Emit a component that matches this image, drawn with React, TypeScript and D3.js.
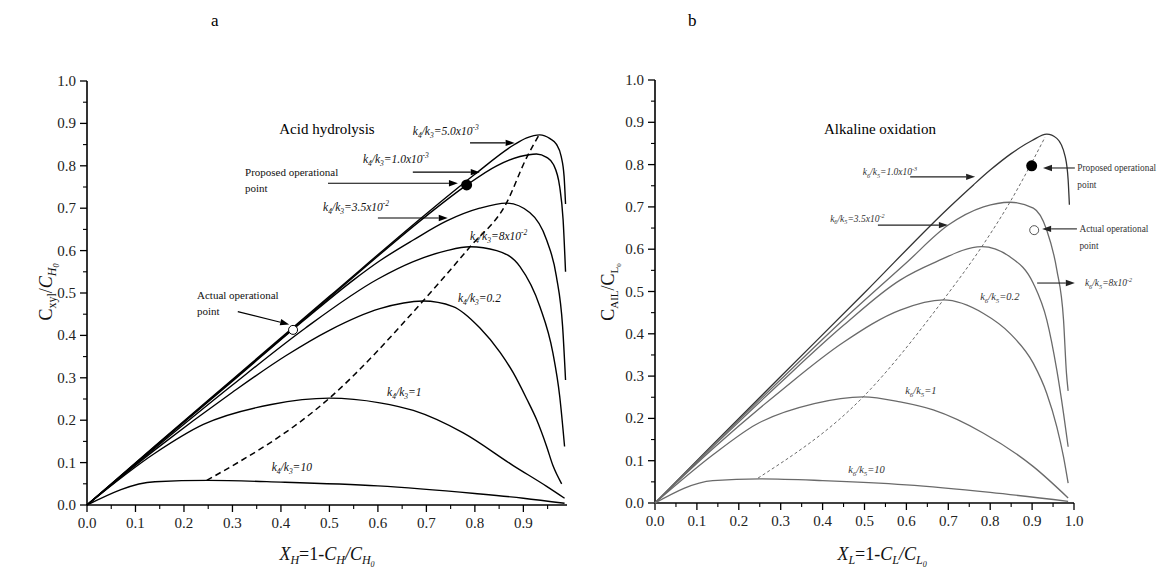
import React from 'react';
import * as d3 from 'd3';

type P = [number, number];

// ---------- Panel a: Acid hydrolysis ----------
const acid_k5e3: P[] = [[0,0],[0.14,0.139],[0.3,0.296],[0.5,0.492],[0.7,0.687],[0.8,0.78],[0.88,0.849],[0.907,0.866],[0.934,0.873],[0.955,0.864],[0.968,0.851],[0.978,0.822],[0.984,0.775],[0.987,0.71]];
const acid_k1e3: P[] = [[0,0],[0.14,0.138],[0.3,0.294],[0.5,0.489],[0.7,0.682],[0.78,0.752],[0.845,0.8],[0.893,0.822],[0.927,0.828],[0.948,0.82],[0.962,0.803],[0.975,0.75],[0.982,0.672],[0.987,0.55]];
const acid_k35e2: P[] = [[0,0],[0.14,0.137],[0.3,0.292],[0.45,0.438],[0.55,0.531],[0.604,0.576],[0.673,0.625],[0.742,0.67],[0.81,0.7],[0.865,0.712],[0.913,0.69],[0.948,0.625],[0.968,0.54],[0.981,0.42],[0.987,0.295]];
const acid_k8e2: P[] = [[0,0],[0.14,0.134],[0.3,0.283],[0.45,0.417],[0.6,0.533],[0.673,0.574],[0.742,0.6],[0.79,0.609],[0.845,0.6],[0.893,0.562],[0.934,0.468],[0.961,0.358],[0.975,0.256],[0.985,0.138]];
const acid_k02: P[] = [[0,0],[0.14,0.13],[0.3,0.266],[0.41,0.352],[0.5,0.412],[0.604,0.463],[0.693,0.481],[0.755,0.468],[0.81,0.418],[0.852,0.36],[0.879,0.312],[0.907,0.25],[0.927,0.202],[0.948,0.138],[0.961,0.093],[0.979,0.05]];
const acid_k1: P[] = [[0,0],[0.14,0.122],[0.24,0.19],[0.38,0.237],[0.5,0.252],[0.604,0.241],[0.673,0.223],[0.776,0.17],[0.879,0.093],[0.948,0.044],[0.985,0.016]];
const acid_k10: P[] = [[0,0],[0.14,0.055],[0.25,0.058],[0.4,0.054],[0.6,0.045],[0.8,0.027],[0.9,0.016],[0.985,0.004]];
const acid_locus: P[] = [[0.247,0.058],[0.5,0.252],[0.693,0.481],[0.79,0.609],[0.865,0.712],[0.907,0.82],[0.932,0.872]];

// ---------- Panel b: Alkaline oxidation ----------
const alk_k1e3: P[] = [[0,0],[0.14,0.14],[0.3,0.299],[0.5,0.497],[0.7,0.697],[0.76,0.752],[0.8,0.787],[0.85,0.826],[0.9,0.857],[0.935,0.872],[0.959,0.862],[0.979,0.819],[0.986,0.764],[0.989,0.705]];
const alk_k35e2: P[] = [[0,0],[0.14,0.138],[0.3,0.292],[0.45,0.434],[0.6,0.568],[0.7,0.657],[0.784,0.7],[0.847,0.711],[0.903,0.697],[0.935,0.645],[0.959,0.551],[0.975,0.433],[0.982,0.307],[0.986,0.265]];
const alk_k8e2: P[] = [[0,0],[0.14,0.135],[0.3,0.285],[0.45,0.42],[0.585,0.527],[0.664,0.567],[0.78,0.606],[0.847,0.582],[0.903,0.519],[0.935,0.433],[0.959,0.314],[0.975,0.212],[0.986,0.133]];
const alk_k02: P[] = [[0,0],[0.14,0.13],[0.3,0.265],[0.45,0.38],[0.585,0.456],[0.688,0.48],[0.784,0.448],[0.847,0.401],[0.903,0.33],[0.935,0.259],[0.959,0.18],[0.975,0.109],[0.986,0.047]];
const alk_k1: P[] = [[0,0],[0.14,0.115],[0.24,0.185],[0.38,0.235],[0.497,0.251],[0.585,0.239],[0.664,0.22],[0.784,0.165],[0.903,0.086],[0.986,0.012]];
const alk_k10: P[] = [[0,0],[0.138,0.053],[0.25,0.057],[0.4,0.053],[0.6,0.043],[0.8,0.025],[0.986,0.004]];
const alk_locus: P[] = [[0.246,0.059],[0.497,0.251],[0.688,0.48],[0.78,0.606],[0.847,0.711],[0.931,0.865]];

// operational points
const acidProposed: P = [0.783, 0.755];
const acidActual: P = [0.425, 0.413];
const alkProposed: P = [0.899, 0.797];
const alkActual: P = [0.905, 0.645];

// ticks
const yMajor = [0, 0.1, 0.2, 0.3, 0.4, 0.5, 0.6, 0.7, 0.8, 0.9, 1.0];
const yMinor = [0.05, 0.15, 0.25, 0.35, 0.45, 0.55, 0.65, 0.75, 0.85, 0.95];
const xMajorA = [0, 0.1, 0.2, 0.3, 0.4, 0.5, 0.6, 0.7, 0.8, 0.9];
const xMajorB = [0, 0.1, 0.2, 0.3, 0.4, 0.5, 0.6, 0.7, 0.8, 0.9, 1.0];
const xMinor = [0.05, 0.15, 0.25, 0.35, 0.45, 0.55, 0.65, 0.75, 0.85, 0.95];

const SERIF = '"Liberation Serif","Times New Roman",Times,"DejaVu Serif",serif';
const fmt = d3.format('.1f');

// scales
const xA = d3.scaleLinear().domain([0, 0.99]).range([87, 567]);
const yA = d3.scaleLinear().domain([0, 1]).range([505, 81]);
const xB = d3.scaleLinear().domain([0, 1]).range([655, 1074]);
const yB = d3.scaleLinear().domain([0, 1]).range([503, 80]);

function Axes({ x, y, xMajor }: { x: any; y: any; xMajor: number[] }) {
  const x0 = x.range()[0], x1 = x.range()[1];
  const y0 = y.range()[0], y1 = y.range()[1];
  return (
    <g stroke="#000" fill="none">
      <line x1={x0} y1={y0} x2={x0} y2={y1} strokeWidth={1.6} />
      <line x1={x0} y1={y0} x2={x1} y2={y0} strokeWidth={1.6} />
      {yMajor.map((v) => (
        <line key={'ym' + v} x1={x0 - 7} x2={x0} y1={y(v)} y2={y(v)} strokeWidth={1.3} />
      ))}
      {yMinor.map((v) => (
        <line key={'yn' + v} x1={x0 - 4} x2={x0} y1={y(v)} y2={y(v)} strokeWidth={1.1} />
      ))}
      {xMajor.map((v) => (
        <line key={'xm' + v} x1={x(v)} x2={x(v)} y1={y0} y2={y0 + 7} strokeWidth={1.3} />
      ))}
      {xMinor.map((v) => (
        <line key={'xn' + v} x1={x(v)} x2={x(v)} y1={y0} y2={y0 + 4} strokeWidth={1.1} />
      ))}
      <g stroke="none" fill="#222" fontFamily={SERIF} fontSize={15}>
        {yMajor.map((v) => (
          <text key={'yl' + v} x={x0 - 11} y={y(v) + 5} textAnchor="end">{fmt(v)}</text>
        ))}
        {xMajor.map((v) => (
          <text key={'xl' + v} x={x(v)} y={y0 + 23} textAnchor="middle">{fmt(v)}</text>
        ))}
      </g>
    </g>
  );
}

function KLabel({ x, y, a, b, val, exp, fill = '#111', size = 11.5 }: { x: number; y: number; a: string; b: string; val: string; exp?: string; fill?: string; size?: number }) {
  const s = size * 0.65;
  return (
    <text x={x} y={y} fontFamily={SERIF} fontStyle="italic" fontSize={size} fill={fill}>
      <tspan>k</tspan>
      <tspan dy={size * 0.27} fontSize={s}>{a}</tspan>
      <tspan dy={-size * 0.27}>/k</tspan>
      <tspan dy={size * 0.27} fontSize={s}>{b}</tspan>
      <tspan dy={-size * 0.27}>={val}</tspan>
      {exp ? <tspan dy={-size * 0.43} fontSize={s}>{exp}</tspan> : null}
    </text>
  );
}

function Arrow({ x1, y1, x2, y2, color = '#000' }: { x1: number; y1: number; x2: number; y2: number; color?: string }) {
  const ang = Math.atan2(y2 - y1, x2 - x1);
  const L = 9, W = 3.2;
  const bx = x2 - L * Math.cos(ang), by = y2 - L * Math.sin(ang);
  const px = -Math.sin(ang) * W, py = Math.cos(ang) * W;
  return (
    <g>
      <line x1={x1} y1={y1} x2={bx} y2={by} stroke={color} strokeWidth={1.1} />
      <path d={`M${x2},${y2}L${bx + px},${by + py}L${bx - px},${by - py}Z`} fill={color} />
    </g>
  );
}

export default function App() {
  const lineA = d3.line<P>().x((d) => xA(d[0])).y((d) => yA(d[1])).curve(d3.curveMonotoneX);
  const lineB = d3.line<P>().x((d) => xB(d[0])).y((d) => yB(d[1])).curve(d3.curveMonotoneX);

  const curvesA = [acid_k5e3, acid_k1e3, acid_k35e2, acid_k8e2, acid_k02, acid_k1, acid_k10];
  const curvesB = [alk_k35e2, alk_k8e2, alk_k02, alk_k1, alk_k10];

  return (
    <svg width={1161} height={580} style={{ display: 'block', position: 'absolute', left: 0, top: 0, background: '#fff' }}>
      <rect x={0} y={0} width={1161} height={580} fill="#fff" />
      {/* panel labels */}
      <text x={211} y={26} fontFamily={SERIF} fontSize={17}>a</text>
      <text x={688} y={26} fontFamily={SERIF} fontSize={17}>b</text>

      {/* ============ Panel a ============ */}
      <text x={327} y={134} textAnchor="middle" fontFamily={SERIF} fontSize={15}>Acid hydrolysis</text>
      <Axes x={xA} y={yA} xMajor={xMajorA} />
      <g fill="none" stroke="#000" strokeWidth={1.4}>
        {curvesA.map((c, i) => (
          <path key={i} d={lineA(c) || ''} />
        ))}
        <path d={lineA(acid_locus) || ''} strokeDasharray="6 4" strokeWidth={1.5} />
      </g>
      <circle cx={xA(acidProposed[0])} cy={yA(acidProposed[1])} r={5.5} fill="#000" />
      <circle cx={xA(acidActual[0])} cy={yA(acidActual[1])} r={4.5} fill="#fff" stroke="#000" strokeWidth={1} />

      <KLabel x={xA(0.672)} y={yA(0.872)} a="4" b="3" val="5.0x10" exp="-3" />
      <Arrow x1={xA(0.79)} y1={yA(0.854)} x2={xA(0.882)} y2={yA(0.854)} />
      <KLabel x={xA(0.569)} y={yA(0.806)} a="4" b="3" val="1.0x10" exp="-3" />
      <Arrow x1={xA(0.672)} y1={yA(0.785)} x2={xA(0.81)} y2={yA(0.785)} />
      <text fontFamily={SERIF} fontSize={11} fill="#111">
        <tspan x={xA(0.326)} y={yA(0.775)}>Proposed operational</tspan>
        <tspan x={xA(0.326)} y={yA(0.739)}>point</tspan>
      </text>
      <Arrow x1={xA(0.497)} y1={yA(0.759)} x2={xA(0.765)} y2={yA(0.759)} />
      <KLabel x={xA(0.487)} y={yA(0.693)} a="4" b="3" val="3.5x10" exp="-2" />
      <Arrow x1={xA(0.6)} y1={yA(0.677)} x2={xA(0.744)} y2={yA(0.677)} />
      <KLabel x={xA(0.79)} y={yA(0.625)} a="4" b="3" val="8x10" exp="-2" />
      <KLabel x={xA(0.765)} y={yA(0.479)} a="4" b="3" val="0.2" />
      <KLabel x={xA(0.619)} y={yA(0.257)} a="4" b="3" val="1" />
      <KLabel x={xA(0.381)} y={yA(0.08)} a="4" b="3" val="10" />
      <text fontFamily={SERIF} fontSize={11} fill="#111">
        <tspan x={xA(0.227)} y={yA(0.485)}>Actual operational</tspan>
        <tspan x={xA(0.227)} y={yA(0.449)}>point</tspan>
      </text>
      <Arrow x1={xA(0.311)} y1={yA(0.456)} x2={xA(0.417)} y2={yA(0.426)} />

      {/* y title a */}
      <text transform="translate(52,292) rotate(-90)" textAnchor="middle" fontFamily={SERIF} fontSize={18} fill="#111">
        <tspan>C</tspan>
        <tspan dy={4} fontSize={12}>xyl</tspan>
        <tspan dy={-4}>/</tspan>
        <tspan fontStyle="italic">C</tspan>
        <tspan dy={4} fontSize={12} fontStyle="italic">H</tspan>
        <tspan dy={3} fontSize={8} fontStyle="italic">0</tspan>
      </text>
      {/* x title a */}
      <text x={327} y={560} textAnchor="middle" fontFamily={SERIF} fontSize={18} fill="#111">
        <tspan fontStyle="italic">X</tspan>
        <tspan dy={4} fontSize={12} fontStyle="italic">H</tspan>
        <tspan dy={-4}>=1-</tspan>
        <tspan fontStyle="italic">C</tspan>
        <tspan dy={4} fontSize={12} fontStyle="italic">H</tspan>
        <tspan dy={-4} fontStyle="italic">/C</tspan>
        <tspan dy={4} fontSize={12} fontStyle="italic">H</tspan>
        <tspan dy={3} fontSize={8} fontStyle="italic">0</tspan>
      </text>

      {/* ============ Panel b ============ */}
      <text x={880} y={134} textAnchor="middle" fontFamily={SERIF} fontSize={15}>Alkaline oxidation</text>
      <Axes x={xB} y={yB} xMajor={xMajorB} />
      <g fill="none" stroke="#6a6a6a" strokeWidth={1.3}>
        <path d={lineB(alk_k1e3) || ''} stroke="#333" />
        {curvesB.map((c, i) => (
          <path key={i} d={lineB(c) || ''} />
        ))}
        <path d={lineB(alk_locus) || ''} strokeDasharray="3 2.5" strokeWidth={1} />
      </g>
      <circle cx={xB(alkProposed[0])} cy={yB(alkProposed[1])} r={5.5} fill="#000" />
      <circle cx={xB(alkActual[0])} cy={yB(alkActual[1])} r={4.5} fill="#fff" stroke="#555" strokeWidth={1} />

      <KLabel x={xB(0.496)} y={yB(0.775)} a="6" b="5" val="1.0x10" exp="-3" fill="#333" size={9.5} />
      <Arrow x1={xB(0.609)} y1={yB(0.771)} x2={xB(0.764)} y2={yB(0.771)} color="#222" />
      <KLabel x={xB(0.418)} y={yB(0.665)} a="6" b="5" val="3.5x10" exp="-2" fill="#333" size={9.5} />
      <Arrow x1={xB(0.532)} y1={yB(0.657)} x2={xB(0.699)} y2={yB(0.657)} color="#222" />
      <Arrow x1={xB(1.002)} y1={yB(0.792)} x2={xB(0.926)} y2={yB(0.792)} color="#222" />
      <text fontFamily={SERIF} fontSize={9.3} fill="#333">
        <tspan x={xB(1.008)} y={yB(0.785)}>Proposed operational</tspan>
        <tspan x={xB(1.008)} y={yB(0.745)}>point</tspan>
      </text>
      <Arrow x1={xB(1.007)} y1={yB(0.648)} x2={xB(0.924)} y2={yB(0.648)} color="#222" />
      <text fontFamily={SERIF} fontSize={9.3} fill="#333">
        <tspan x={xB(1.013)} y={yB(0.64)}>Actual operational</tspan>
        <tspan x={xB(1.013)} y={yB(0.6)}>point</tspan>
      </text>
      <Arrow x1={xB(0.912)} y1={yB(0.52)} x2={xB(1.002)} y2={yB(0.52)} color="#222" />
      <KLabel x={xB(1.026)} y={yB(0.512)} a="6" b="5" val="8x10" exp="-2" fill="#333" size={9.5} />
      <KLabel x={xB(0.776)} y={yB(0.48)} a="6" b="5" val="0.2" fill="#333" size={10.5} />
      <KLabel x={xB(0.597)} y={yB(0.258)} a="6" b="5" val="1" fill="#333" size={10.5} />
      <KLabel x={xB(0.461)} y={yB(0.071)} a="6" b="5" val="10" fill="#333" size={10.5} />

      {/* y title b */}
      <text transform="translate(614,292) rotate(-90)" textAnchor="middle" fontFamily={SERIF} fontSize={18} fill="#111">
        <tspan>C</tspan>
        <tspan dy={4} fontSize={11}>AIL</tspan>
        <tspan dy={-4}>/C</tspan>
        <tspan dy={4} fontSize={11}>L</tspan>
        <tspan dy={3} fontSize={7}>0</tspan>
      </text>
      {/* x title b */}
      <text x={882} y={560} textAnchor="middle" fontFamily={SERIF} fontSize={18} fill="#111">
        <tspan fontStyle="italic">X</tspan>
        <tspan dy={4} fontSize={12} fontStyle="italic">L</tspan>
        <tspan dy={-4}>=1-</tspan>
        <tspan fontStyle="italic">C</tspan>
        <tspan dy={4} fontSize={12} fontStyle="italic">L</tspan>
        <tspan dy={-4} fontStyle="italic">/C</tspan>
        <tspan dy={4} fontSize={12} fontStyle="italic">L</tspan>
        <tspan dy={3} fontSize={8} fontStyle="italic">0</tspan>
      </text>
    </svg>
  );
}
